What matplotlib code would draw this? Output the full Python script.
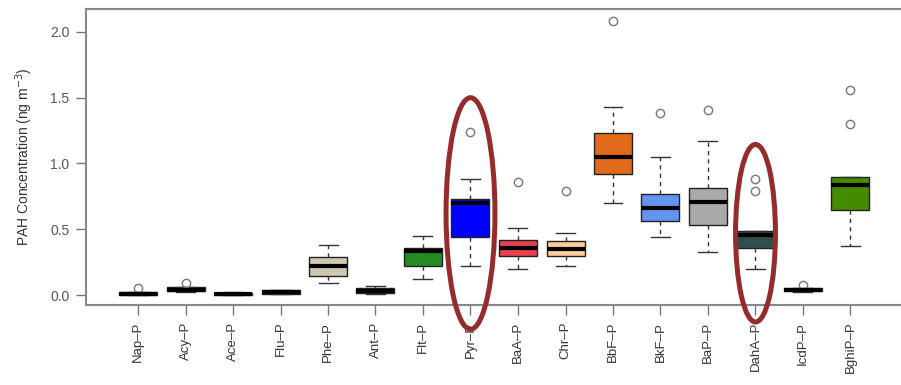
import matplotlib
matplotlib.use("Agg")
import matplotlib.pyplot as plt
from matplotlib.patches import Ellipse

plt.rcParams['font.family'] = ['Liberation Sans', 'DejaVu Sans']

categories = ["Nap–P", "Acy–P", "Ace–P", "Flu–P", "Phe–P", "Ant–P", "Flt–P", "Pyr–P",
              "BaA–P", "Chr–P", "BbF–P", "BkF–P", "BaP–P", "DahA–P", "IcdP–P", "BghiP–P"]
whisker_low = [0.000, 0.025, 0.000, 0.008, 0.093, 0.010, 0.120, 0.220,
               0.200, 0.220, 0.700, 0.440, 0.330, 0.195, 0.025, 0.370]
q1 =          [0.000, 0.028, 0.000, 0.010, 0.146, 0.018, 0.220, 0.440,
               0.300, 0.300, 0.920, 0.560, 0.530, 0.360, 0.030, 0.650]
medians =     [0.008, 0.042, 0.006, 0.020, 0.220, 0.032, 0.336, 0.700,
               0.360, 0.350, 1.050, 0.660, 0.710, 0.455, 0.040, 0.840]
q3 =          [0.020, 0.058, 0.018, 0.035, 0.290, 0.050, 0.360, 0.730,
               0.420, 0.410, 1.235, 0.770, 0.810, 0.490, 0.050, 0.900]
whisker_high = [0.025, 0.062, 0.022, 0.040, 0.384, 0.070, 0.447, 0.880,
                0.510, 0.470, 1.430, 1.050, 1.170, 0.490, 0.055, 0.900]
outliers = [[0.055], [0.090], [], [], [], [], [], [1.240],
            [0.860], [0.790], [2.080], [1.380], [1.410], [0.880, 0.790], [0.080], [1.300, 1.560]]
colors = ["#FFFFFF", "#FFFFFF", "#FFFFFF", "#FFFFFF", "#CDC8B1", "#FFFFFF", "#228B22", "#0000FF",
          "#E8414E", "#FFCC99", "#E06A1A", "#6495ED", "#A9A9A9", "#2F4F4F", "#FFFFFF", "#458B00"]
yticks = [0.0, 0.5, 1.0, 1.5, 2.0]
highlight = ["Pyr–P", "DahA–P"]

W, H = 901, 385
fig = plt.figure(figsize=(W / 100, H / 100), dpi=100)
ax = fig.add_axes([86 / W, (H - 305) / H, (905 - 86) / W, (305 - 9) / H])

stats = []
for i in range(len(categories)):
    stats.append(dict(label=categories[i], whislo=whisker_low[i], q1=q1[i], med=medians[i],
                      q3=q3[i], whishi=whisker_high[i], fliers=outliers[i]))

pos = list(range(1, len(categories) + 1))
bp = ax.bxp(stats, positions=pos, widths=0.8, patch_artist=True, showfliers=True,
            boxprops=dict(edgecolor="#222222", linewidth=1.0),
            medianprops=dict(color="black", linewidth=3.0, solid_capstyle="butt"),
            whiskerprops=dict(color="#333333", linewidth=1.0, linestyle=(0, (3, 3))),
            capprops=dict(color="#333333", linewidth=1.0),
            capwidths=0.4,
            flierprops=dict(marker="o", markerfacecolor="none", markeredgecolor="#777777",
                            markersize=6, markeredgewidth=1.0))
for patch, c in zip(bp["boxes"], colors):
    patch.set_facecolor(c)

ax.set_xlim(1 - 52 / 47.5, 16 + (905 - 850.5) / 47.5)
ax.set_ylim(-10 / 132, 2.0 + 23 / 132)
ax.set_yticks(yticks)
ax.set_yticklabels([f"{v:.1f}" for v in yticks], fontsize=10, color="#555555")
ax.set_xticks(pos)
ax.set_xticklabels(categories, rotation=90, fontsize=9.5, color="#333333")
ax.tick_params(axis="both", direction="out", length=7, color="#777777", width=1.0, pad=5)
for s in ax.spines.values():
    s.set_color("#888888")
    s.set_linewidth(1.5)
ax.set_ylabel("PAH Concentration (ng m$^{-3}$)", fontsize=10, color="#333333", labelpad=11)

# red highlight ellipses
for name, cy, w, h in [("Pyr–P", 0.62, 1.03, 1.76), ("DahA–P", 0.47, 0.84, 1.35)]:
    x = categories.index(name) + 1
    e = Ellipse((x, cy), w, h, fill=False, edgecolor="#962B2B", linewidth=3.6,
                clip_on=False, zorder=10)
    ax.add_patch(e)

fig.savefig("out.png", dpi=100)
